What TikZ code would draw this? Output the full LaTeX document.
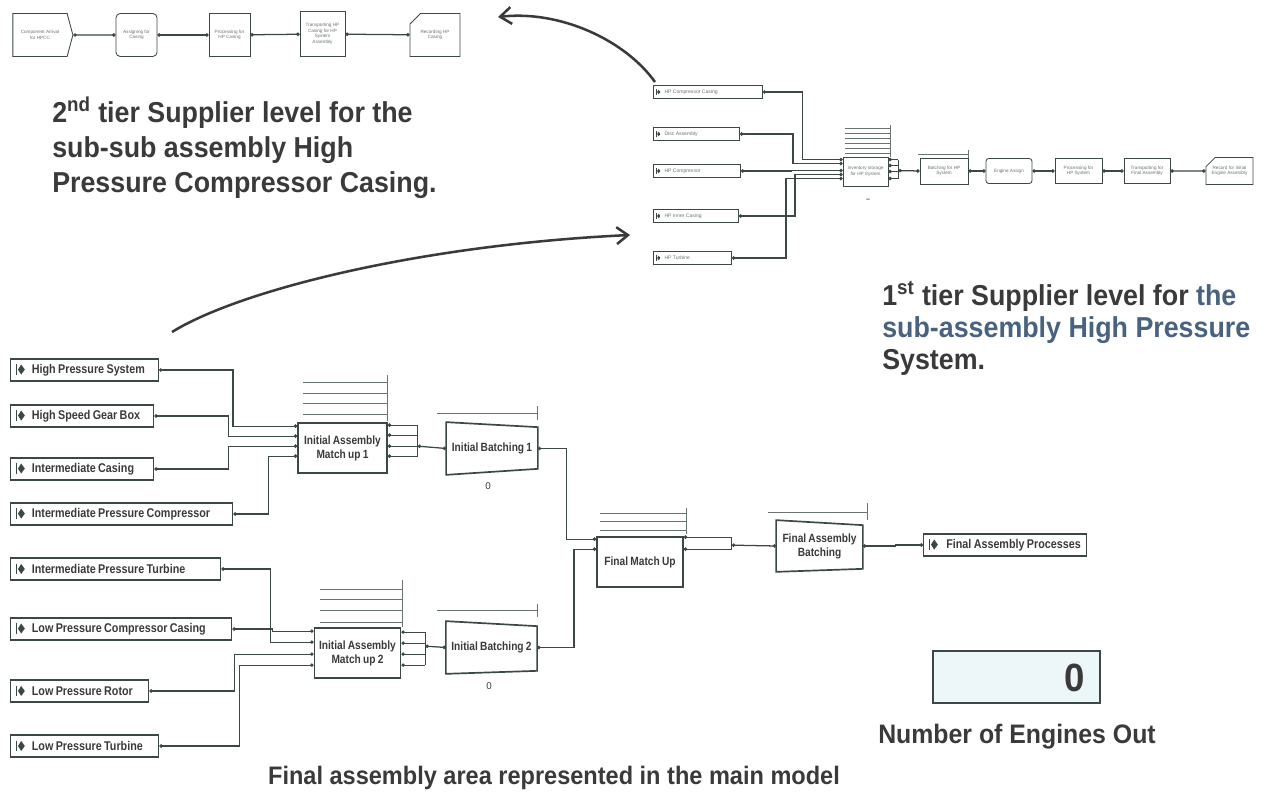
\documentclass[tikz,border=0pt]{standalone}
\usepackage{fontspec}
\setmainfont{Liberation Sans}
\newfontfamily\narrowsans[FakeStretch=0.85,WordSpace=0.8]{Liberation Sans}
\newfontfamily\headsans[FakeStretch=0.93]{Liberation Sans}
\usetikzlibrary{positioning,arrows.meta,calc,shapes.misc,shapes.symbols}
\definecolor{linecol}{RGB}{60,72,70}
\definecolor{txtcol}{RGB}{58,58,58}
\definecolor{slate}{RGB}{72,98,128}
\definecolor{qcol}{RGB}{105,115,113}
\definecolor{cntfill}{RGB}{237,246,249}
\newcommand\srcicon[1]{\tikz[baseline=-0.6ex,x=#1,y=#1]{\draw[linecol,line width=0.4pt] (-0.35,0.6)--(-0.35,-0.6);\fill[linecol] (-0.2,0)--(0.15,0.55)--(0.55,0)--(0.15,-0.55)--cycle;}}
\tikzset{
  wire/.style={draw=linecol,line width=0.9pt},
  lk/.style={wire,{Circle[length=2.4pt]}-{Circle[length=2.4pt]}},
  stub/.style={wire,{Circle[length=2.4pt]}-},
  queue/.style={draw=qcol,line width=0.6pt},
  blk/.style={rectangle,draw=linecol,line width=1.2pt,fill=white,align=center,text=txtcol,
    font=\narrowsans\bfseries\fontsize{8.5}{10}\selectfont},
  src/.style={rectangle,draw=linecol,line width=1pt,anchor=west,minimum height=0.55cm,
    inner xsep=4pt,inner ysep=0pt,text width=#1,align=flush left,text=txtcol,
    font=\narrowsans\bfseries\fontsize{9}{10}\selectfont},
  tinysrc/.style={rectangle,draw=linecol,line width=0.6pt,anchor=west,minimum height=0.325cm,
    inner xsep=2pt,inner ysep=0pt,text width=#1,align=flush left,text=qcol,
    font=\fontsize{3.6}{4}\selectfont},
  tinyblk/.style={rectangle,draw=linecol,line width=0.6pt,fill=white,align=center,text=qcol,
    inner sep=1pt,font=\fontsize{3.3}{3.9}\selectfont},
  heading/.style={anchor=north west,inner sep=0pt,align=left,text=txtcol},
  bigarrow/.style={draw=txtcol,line width=1.8pt,-{Straight Barb[length=8pt,width=12pt]}},
}

\begin{document}
\begin{tikzpicture}[x=0.025cm,y=-0.025cm]
  \useasboundingbox (0,0) rectangle (1264,793);
  % 2nd tier: HP compressor casing
  \node[tinyblk,signal,signal to=east,signal pointer angle=150,minimum width=1.5cm,minimum height=1.075cm] (arr) at (40,35) {Component Arrival\\for HPCC};
  \node[tinyblk,rounded corners=3pt,minimum width=1.025cm,minimum height=1.075cm] (asg) at (136.5,35) {Assigning for\\Casing};
  \node[tinyblk,minimum width=1.025cm,minimum height=1.075cm] (prc) at (229.5,35) {Processing for\\HP Casing};
  \node[tinyblk,minimum width=1.125cm,minimum height=1.125cm] (trn) at (322.5,34) {Transporting HP\\Casing for HP\\System\\Assembly};
  \node[tinyblk,chamfered rectangle,chamfered rectangle corners=north west,chamfered rectangle xsep=4pt,minimum width=1.25cm,minimum height=1.075cm] (rec) at (435,35) {Recording HP\\Casing};
  \draw[lk] (arr) -- (asg); \draw[lk] (asg) -- (prc); \draw[lk] (prc) -- (trn); \draw[lk] (trn) -- (rec);

  % 1st tier: HP system
  \node[tinysrc=73.5pt] (hpcc) at (653,92) {\srcicon{3pt}\hspace{3pt}HP Compressor Casing};
  \node[tinysrc=57.2pt] (disc) at (653,134) {\srcicon{3pt}\hspace{3pt}Disc Assembly};
  \node[tinysrc=57.9pt] (hpc) at (653,171) {\srcicon{3pt}\hspace{3pt}HP Compressor};
  \node[tinysrc=56.5pt] (hpic) at (653,216) {\srcicon{3pt}\hspace{3pt}HP Inner Casing};
  \node[tinysrc=51.5pt] (hpt) at (653,258) {\srcicon{3pt}\hspace{3pt}HP Turbine};
  \node[tinyblk,minimum width=1.125cm,minimum height=0.725cm] (inv) at (865.5,171.5) {Inventory storage\\for HP System};
  \node[tinyblk,minimum width=1.2cm,minimum height=0.65cm] (bat) at (944,171) {Batching for HP\\System};
  \node[tinyblk,rounded corners=2pt,minimum width=1.15cm,minimum height=0.625cm] (eng) at (1009,171) {Engine Assign};
  \node[tinyblk,minimum width=1.175cm,minimum height=0.625cm] (php) at (1078.5,171) {Processing for\\HP System};
  \node[tinyblk,minimum width=1.15cm,minimum height=0.625cm] (tfa) at (1147,171) {Transporting for\\Final Assembly};
  \node[tinyblk,chamfered rectangle,chamfered rectangle corners=north west,chamfered rectangle xsep=3pt,minimum width=1.125cm,minimum height=0.675cm] (rfi) at (1229.5,171) {Record for Initial\\Engine Assembly};
  \node[font=\bfseries\fontsize{5}{5}\selectfont,text=txtcol] (invcnt) at (868,200) {--};
  \foreach \y in {128,133,...,153} \draw[queue,line width=0.5pt] (845,\y) -- (890,\y);
  \draw[queue,line width=0.5pt] (890,125) -- (890,157);
  \draw[queue,line width=0.5pt] (918,154) -- (968,154); \draw[queue,line width=0.5pt] (968,150) -- (968,158);
  \draw[lk] (hpcc.east) -- ++(40,0) |- ($(inv.north west)+(0,3)$);
  \draw[lk] (disc.east) -- ++(53,0) |- ($(inv.north west)+(0,7)$);
  \draw[lk] (hpc.east) -- ++(50,0) |- ($(inv.north west)+(0,14)$);
  \draw[lk] (hpic.east) -- ++(56,0) |- ($(inv.north west)+(0,18)$);
  \draw[lk] (hpt.east) -- ++(54,0) |- ($(inv.north west)+(0,22)$);
  \foreach \dy in {3,9,15,22} \draw[stub] ($(inv.north east)+(0,\dy)$) -- ++(10,0);
  \draw[wire] ($(inv.north east)+(10,3)$) -- ($(inv.north east)+(10,22)$);
  \draw[lk] ($(inv.north east)+(10,14)$) -- (bat.west);
  \draw[lk] (bat) -- (eng); \draw[lk] (eng) -- (php); \draw[lk] (php) -- (tfa); \draw[lk] (tfa) -- (rfi);

  % main model sources
  \node[src=97pt] (hps) at (10,370) {\srcicon{6.5pt}\hspace{5pt}High Pressure System};
  \node[src=93.7pt] (hsg) at (10,416) {\srcicon{6.5pt}\hspace{5pt}High Speed Gear Box};
  \node[src=93.7pt] (ic) at (10,469) {\srcicon{6.5pt}\hspace{5pt}Intermediate Casing};
  \node[src=149.9pt] (ipc) at (10,514) {\srcicon{6.5pt}\hspace{5pt}Intermediate Pressure Compressor};
  \node[src=141.4pt] (ipt) at (10,569) {\srcicon{6.5pt}\hspace{5pt}Intermediate Pressure Turbine};
  \node[src=149.2pt] (lpcc) at (10,629) {\srcicon{6.5pt}\hspace{5pt}Low Pressure Compressor Casing};
  \node[src=90.2pt] (lpr) at (10,691) {\srcicon{6.5pt}\hspace{5pt}Low Pressure Rotor};
  \node[src=97.3pt] (lpt) at (10,746) {\srcicon{6.5pt}\hspace{5pt}Low Pressure Turbine};
  \node[src=107.9pt] (fap) at (923,545) {\srcicon{6.5pt}\hspace{6pt}Final Assembly Processes};

  % match ups and batching
  \node[blk,minimum width=2.225cm,minimum height=1.25cm] (m1) at (342.5,448) {Initial Assembly\\Match up 1};
  \node[blk,minimum width=2.125cm,minimum height=1.25cm] (m2) at (357.5,653) {Initial Assembly\\Match up 2};
  \node[blk,minimum width=2.15cm,minimum height=1.25cm] (fmu) at (640,562) {Final Match Up};
  \node[blk,draw=none,fill=none,minimum width=2.25cm,minimum height=1.275cm] (b1) at (492,448.5) {Initial Batching 1};
  \node[blk,draw=none,fill=none,minimum width=2.075cm,minimum height=1.275cm] (b2) at (491.5,647.5) {Initial Batching 2};
  \node[blk,draw=none,fill=none,minimum width=2.125cm,minimum height=1.25cm] (fab) at (819.5,546) {Final Assembly\\Batching};
  \draw[linecol,line width=1.2pt] (b1.north west) -- ($(b1.north east)+(0,5)$) -- ($(b1.south east)+(0,-6)$) -- (b1.south west) -- cycle;
  \draw[linecol,line width=1.2pt] (b2.north west) -- ($(b2.north east)+(0,5)$) -- ($(b2.south east)+(0,-3)$) -- (b2.south west) -- cycle;
  \draw[linecol,line width=1.2pt] (fab.north west) -- ($(fab.north east)+(0,5)$) -- ($(fab.south east)+(0,-3)$) -- (fab.south west) -- cycle;
  \node[font=\fontsize{7}{8}\selectfont,text=txtcol] (b1cnt) at (488,486) {0};
  \node[font=\fontsize{7}{8}\selectfont,text=txtcol] (b2cnt) at (489,686) {0};

  % queues
  \foreach \y in {382,393,403,414} \draw[queue] (303,\y) -- (387,\y);
  \draw[queue] (387,375) -- (387,421);
  \foreach \y in {589,599,610,622} \draw[queue] (320,\y) -- (402,\y);
  \draw[queue] (402,580) -- (402,627);
  \foreach \y in {513,521,530} \draw[queue] (600,\y) -- (686,\y);
  \draw[queue] (686,508) -- (686,534);
  \draw[queue] (437,413) -- (537,413); \draw[queue] (537,406) -- (537,420);
  \draw[queue] (437,610) -- (537,610); \draw[queue] (537,604) -- (537,617);
  \draw[queue] (768,512) -- (867,512); \draw[queue] (867,503) -- (867,520);

  % wires
  \draw[lk] (hps.east) -- ++(74,0) |- ($(m1.north west)+(0,4)$);
  \draw[lk] (hsg.east) -- ++(74,0) |- ($(m1.north west)+(0,14)$);
  \draw[lk] (ic.east) -- ++(74,0) |- ($(m1.north west)+(0,24)$);
  \draw[lk] (ipc.east) -- ++(35,0) |- ($(m1.north west)+(0,34)$);
  \draw[lk] (lpcc.east) -- ++(40,0) |- ($(m2.north west)+(0,4)$);
  \draw[lk] (ipt.east) -- ++(49,0) |- ($(m2.north west)+(0,15)$);
  \draw[lk] (lpr.east) -- ++(85,0) |- ($(m2.north west)+(0,27)$);
  \draw[lk] (lpt.east) -- ++(80,0) |- ($(m2.north west)+(0,38)$);
  \foreach \dy in {3,13,24,34} \draw[stub] ($(m1.north east)+(0,\dy)$) -- ++(30,0);
  \draw[wire] ($(m1.north east)+(30,3)$) -- ($(m1.north east)+(30,34)$);
  \draw[lk] ($(m1.north east)+(30,24)$) -- (b1.west);
  \foreach \dy in {5,16,27,38} \draw[stub] ($(m2.north east)+(0,\dy)$) -- ++(24,0);
  \draw[wire] ($(m2.north east)+(24,5)$) -- ($(m2.north east)+(24,38)$);
  \draw[lk] ($(m2.north east)+(24,19)$) -- (b2.west);
  \draw[lk] (b1.east) -- ++(29,0) |- ($(fmu.north west)+(0,3)$);
  \draw[lk] (b2.east) -- ++(37,0) |- ($(fmu.north west)+(0,13)$);
  \foreach \dy in {1,13} \draw[stub] ($(fmu.north east)+(0,\dy)$) -- ++(48,0);
  \draw[wire] ($(fmu.north east)+(48,1)$) -- ($(fmu.north east)+(48,13)$);
  \draw[lk] ($(fmu.north east)+(48,9)$) -- (fab.west);
  \draw[lk] (fab.east) -- ++(33,0) |- (fap.west);

  % counter
  \node[rectangle,draw=linecol,line width=1pt,fill=cntfill,minimum width=4.175cm,minimum height=1.3cm] (cnt) at (1016.5,677) {};
  \node[font=\headsans\bfseries\fontsize{28}{30}\selectfont,text=txtcol] (cntval) at (1075,678) {0};
  \node[font=\headsans\bfseries\fontsize{19}{22}\selectfont,text=txtcol] (cntlbl) at (1017,737) {Number of Engines Out};

  % captions
  \node[heading,font=\headsans\bfseries\fontsize{20.5}{24.9}\selectfont] (tier2) at (52,97) {2\textsuperscript{nd} tier Supplier level for the\\sub-sub assembly High\\Pressure Compressor Casing.};
  \node[heading,font=\headsans\bfseries\fontsize{20.5}{23.1}\selectfont] (tier1) at (882,281) {1\textsuperscript{st} tier Supplier level for {\color{slate}the}\\{\color{slate}sub-assembly High Pressure}\\System.};
  \node[font=\headsans\bfseries\fontsize{18}{20}\selectfont,text=txtcol] (mainlbl) at (554,778) {Final assembly area represented in the main model};

  % links between levels
  \coordinate (hpfrom) at (655,82); \coordinate (tierto) at (498,17);
  \draw[bigarrow] (hpfrom) .. controls (625,40) and (560,10) .. (tierto);
  \coordinate (mainfrom) at (172,332); \coordinate (hpto) at (630,235);
  \draw[bigarrow] (mainfrom) .. controls (240,290) and (420,245) .. (hpto);
\end{tikzpicture}
\end{document}
